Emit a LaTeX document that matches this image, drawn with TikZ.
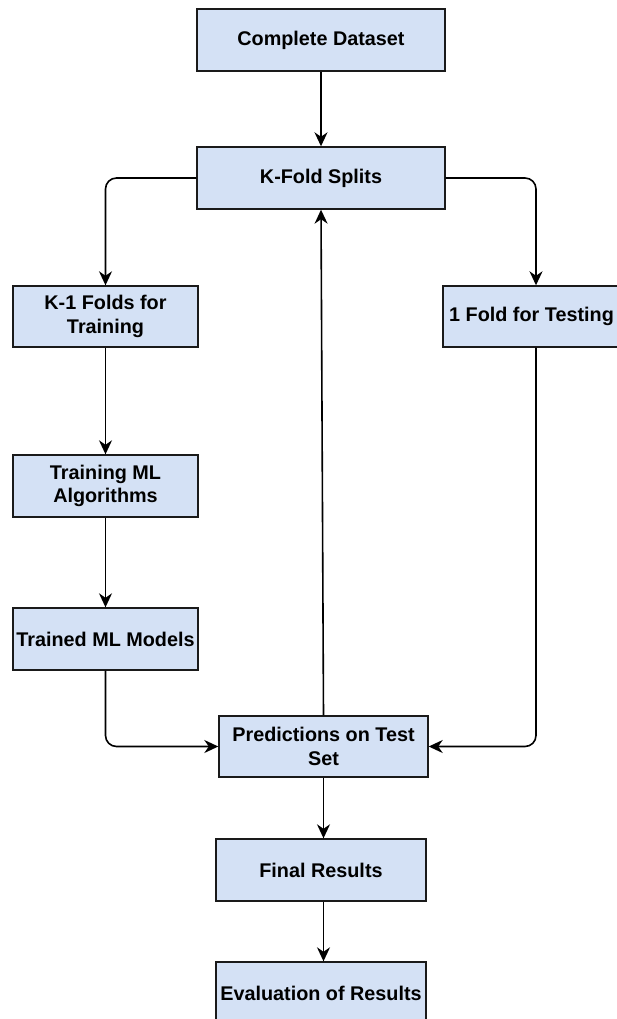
\documentclass[tikz,border=0pt]{standalone}
\usepackage{fontspec}
\setmainfont{Liberation Sans}
\usetikzlibrary{arrows.meta}
\definecolor{boxfill}{HTML}{D4E1F5}
\definecolor{boxline}{HTML}{1A1A1A}
\begin{document}
\begin{tikzpicture}[x=1pt,y=-1pt,
  stepbox/.style={draw=boxline,fill=boxfill,line width=1.4pt,inner sep=0pt,
    align=center,font=\fontsize{19.8}{23.5}\selectfont\bfseries},
  arr/.style={draw=black,line width=1.6pt,rounded corners=11pt,
    -{Stealth[length=14pt,width=13pt,inset=4.5pt]}}]
\useasboundingbox (0,0) rectangle (617,1019);
\node[stepbox,minimum width=248pt,minimum height=62pt] (cd) at (321,40) {Complete Dataset};
\node[stepbox,minimum width=248pt,minimum height=62pt] (kf) at (321,178) {K-Fold Splits};
\node[stepbox,minimum width=185pt,minimum height=61pt] (k1) at (105.5,316.5) {K-1 Folds for\\Training};
\node[stepbox,minimum width=186pt,minimum height=61pt] (one) at (536,316.5) {1 Fold for Testing\hspace*{9pt}};
\node[stepbox,minimum width=185pt,minimum height=62pt] (tr) at (105.5,486) {Training ML\\Algorithms};
\node[stepbox,minimum width=185pt,minimum height=62pt] (tm) at (105.5,639) {Trained ML Models};
\node[stepbox,minimum width=209pt,minimum height=61pt] (pr) at (323.5,746.5) {Predictions on Test\\Set};
\node[stepbox,minimum width=210pt,minimum height=62pt] (fr) at (321,870) {Final Results};
\node[stepbox,minimum width=210pt,minimum height=62pt] (ev) at (321,993) {Evaluation of Results};

\draw[arr] (cd.south) -- (kf.north);
\draw[arr] (kf.west) -| (k1.north);
\draw[arr] (kf.east) -| (one.north);
\draw[arr] (k1.south) -- (tr.north);
\draw[arr] (tr.south) -- (tm.north);
\draw[arr] (tm.south) |- (pr.west);
\draw[arr] (one.south) |- (pr.east);
\draw[arr] (pr.north) -- (kf.south);
\draw[arr] (pr.south) -- (pr.south |- fr.north);
\draw[arr] (pr.south |- fr.south) -- (pr.south |- ev.north);
\end{tikzpicture}
\end{document}
